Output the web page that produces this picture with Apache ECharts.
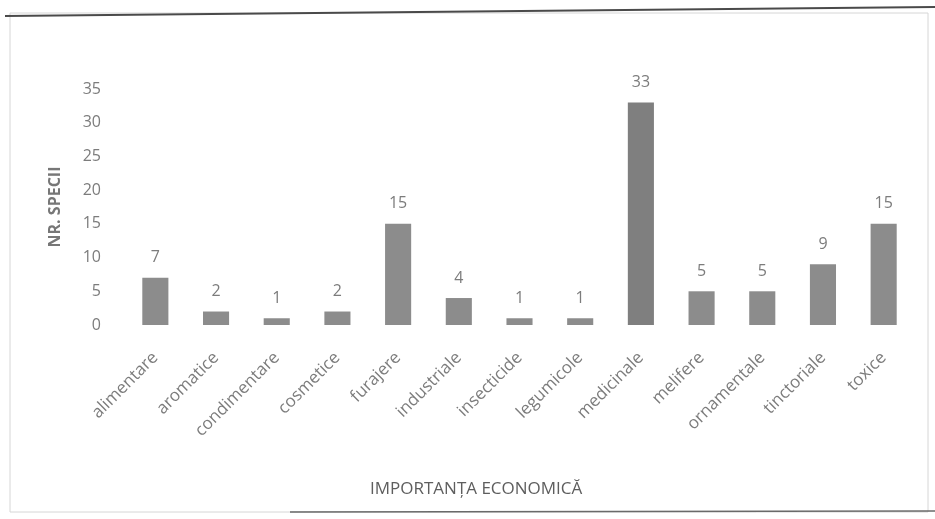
<!DOCTYPE html>
<html>
<head>
<meta charset="utf-8">
<script src="https://cdn.jsdelivr.net/npm/echarts@6/dist/echarts.min.js"></script>
<style>
  html, body { margin: 0; padding: 0; background: #fff; }
  #chart { width: 935px; height: 519px; }
</style>
</head>
<body>
<div id="chart"></div>
<script>
// Categories of economic use and number of species in each
const categories = ['alimentare', 'aromatice', 'condimentare', 'cosmetice', 'furajere', 'industriale',
  'insecticide', 'legumicole', 'medicinale', 'melifere', 'ornamentale', 'tinctoriale', 'toxice'];
const speciesCounts = [7, 2, 1, 2, 15, 4, 1, 1, 33, 5, 5, 9, 15];
const yTicks = [0, 5, 10, 15, 20, 25, 30, 35];

const xTitle = 'IMPORTANȚA ECONOMICĂ';
const yTitle = 'NR. SPECII';

const FONT = '"Open Sans", Lato, sans-serif';
const GREY_TEXT = '#7c7c7c';

const chart = echarts.init(document.getElementById('chart'), null, { renderer: 'canvas' });

chart.setOption({
  backgroundColor: '#ffffff',
  animation: false,
  grid: { left: 125, right: 21, top: 89, bottom: 194 },
  xAxis: {
    type: 'category',
    data: categories,
    axisLine: { show: false },
    axisTick: { show: false },
    axisLabel: {
      rotate: 45,
      interval: 0,
      margin: 30,
      color: GREY_TEXT,
      fontFamily: FONT,
      fontSize: 17
    }
  },
  yAxis: {
    type: 'value',
    min: yTicks[0],
    max: yTicks[yTicks.length - 1],
    interval: yTicks[1] - yTicks[0],
    splitLine: { show: false },
    axisLine: { show: false },
    axisTick: { show: false },
    axisLabel: {
      margin: 24,
      color: GREY_TEXT,
      fontFamily: FONT,
      fontSize: 16
    },
    name: yTitle,
    nameLocation: 'middle',
    nameRotate: 90,
    nameGap: 62,
    nameTextStyle: { color: '#777777', fontFamily: FONT, fontSize: 16, fontWeight: 'bold' }
  },
  series: [{
    type: 'bar',
    data: speciesCounts.map((v, i) => ({
      value: v,
      itemStyle: { color: categories[i] === 'medicinale' ? '#7f7f7f' : '#8c8c8c' }
    })),
    barWidth: '43%',
    label: {
      show: true,
      position: 'top',
      distance: 12,
      color: GREY_TEXT,
      fontFamily: FONT,
      fontSize: 16
    }
  }],
  graphic: [
    {
      type: 'rect',
      shape: { x: 10, y: 13, width: 918, height: 499 },
      style: { fill: 'none', stroke: '#d6d6d6', lineWidth: 1 },
      silent: true
    },
    {
      type: 'line',
      shape: { x1: 5, y1: 16, x2: 935, y2: 7 },
      style: { stroke: '#4a4a4a', lineWidth: 2 },
      silent: true
    },
    {
      type: 'line',
      shape: { x1: 290, y1: 512, x2: 935, y2: 511 },
      style: { stroke: '#6a6a6a', lineWidth: 1.5 },
      silent: true
    },
    {
      type: 'text',
      left: 370,
      top: 481,
      style: { text: xTitle, fill: '#5e5e5e', font: '17px "Open Sans", sans-serif' },
      silent: true
    }
  ]
});
</script>
</body>
</html>
